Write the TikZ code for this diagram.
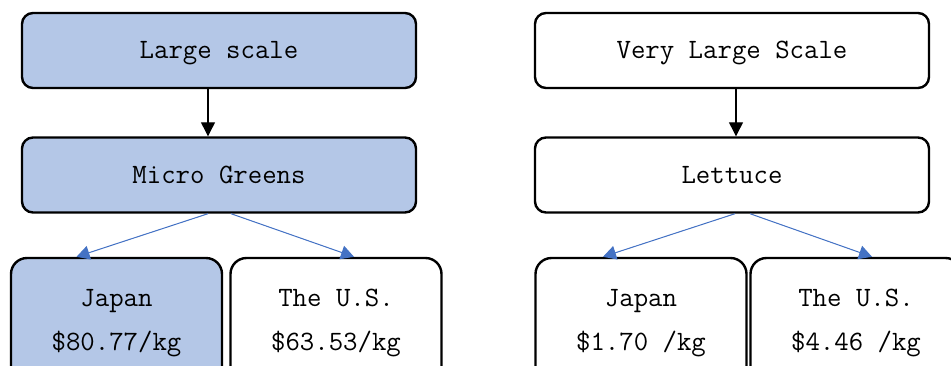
\documentclass[tikz,border=0pt]{standalone}
\usepackage{fontspec}
\usetikzlibrary{arrows.meta}
\definecolor{boxblue}{HTML}{B4C7E7}
\definecolor{arrowblue}{HTML}{4472C4}
\tikzset{
  box/.style={draw=black, line width=2.4pt, rounded corners=11pt,
    minimum width=394pt, minimum height=75pt, text depth=1pt,
    font=\ttfamily\fontsize{28}{44}\selectfont},
  cbox/.style={box, rounded corners=16pt, minimum width=211pt,
    minimum height=124pt, align=center},
  downarrow/.style={-{Triangle[length=14pt,width=14pt]}, line width=1.2pt},
  splitarrow/.style={-{Triangle[length=13pt,width=14pt]}, draw=arrowblue,
    fill=arrowblue, line width=1pt}
}
\begin{document}
\begin{tikzpicture}[x=1pt,y=-1pt]
    \useasboundingbox (0,0) rectangle (951,365);
    \clip (0,0) rectangle (951,365);

    % left tree
    \node[box, fill=boxblue] (ls) at (219,50.5) {Large scale};
    \node[box, fill=boxblue] (mg) at (219,175) {Micro Greens};
    \node[cbox, fill=boxblue] (jpa) at (116.5,320) {Japan\\\$80.77/kg};
    \node[cbox] (usa) at (336,320) {The U.S.\\\$63.53/kg};

    % right tree
    \node[box] (vls) at (732,50.5) {Very Large Scale};
    \node[box] (lt) at (732,175) {Lettuce};
    \node[cbox] (jpb) at (641,320) {Japan\\\$1.70 /kg};
    \node[cbox] (usb) at (856,320) {The U.S.\\\$4.46 /kg};

    \draw[downarrow] ([xshift=-11pt]ls.south) -- ([xshift=-11pt]mg.north);
    \draw[downarrow] ([xshift=4pt]vls.south) -- ([xshift=4pt]lt.north);

    \draw[splitarrow] ([xshift=-11pt]mg.south) -- ([xshift=-40pt]jpa.north);
    \draw[splitarrow] ([xshift=12pt]mg.south) -- ([xshift=18pt]usa.north);
    \draw[splitarrow] ([xshift=3pt]lt.south) -- ([xshift=-38pt]jpb.north);
    \draw[splitarrow] ([xshift=18pt]lt.south) -- ([xshift=16pt]usb.north);

\end{tikzpicture}
\end{document}
